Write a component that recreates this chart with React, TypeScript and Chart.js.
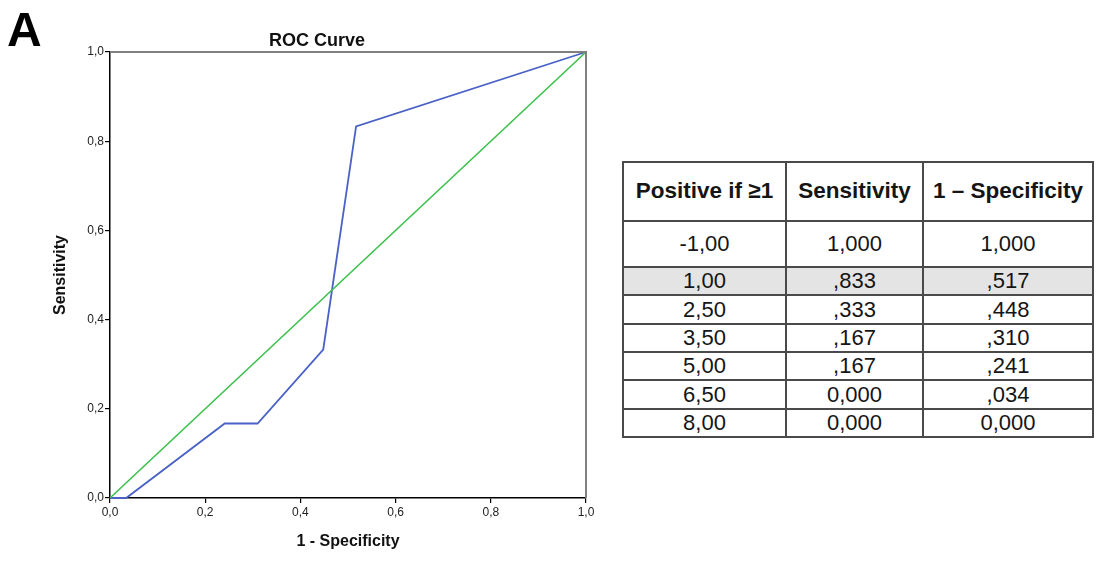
import React, { useEffect, useRef } from "react";
import { Chart, registerables } from "chart.js";

Chart.register(...registerables);

// Coordinates of the ROC curve (cut-off, sensitivity, 1 - specificity)
const thresholds = ["-1,00", "1,00", "2,50", "3,50", "5,00", "6,50", "8,00"];
const sensitivity = [1, 0.833, 0.333, 0.167, 0.167, 0, 0];
const oneMinusSpecificity = [1, 0.517, 0.448, 0.31, 0.241, 0.034, 0];
const highlightedRow = 1;

// Chance (reference) line
const referenceX = [0, 1];
const referenceY = [0, 1];

const tableHeaders = ["Positive if \u22651", "Sensitivity", "1 \u2013 Specificity"];

const FONT = "'Liberation Sans', Arial, Helvetica, sans-serif";

const commaDecimal1 = (v: number) => v.toFixed(1).replace(".", ",");
const spssFraction = (v: number) => {
  if (v === 0) return "0,000";
  if (v === 1) return "1,000";
  return "," + String(Math.round(v * 1000)).padStart(3, "0");
};

const frameAndTitle = {
  id: "frameAndTitle",
  afterDraw(chart: Chart) {
    const { ctx, chartArea } = chart;
    const { left, right, top, bottom } = chartArea;
    ctx.save();
    // top and right frame
    ctx.strokeStyle = "#808080";
    ctx.lineWidth = 2;
    ctx.beginPath();
    ctx.moveTo(left, top);
    ctx.lineTo(right, top);
    ctx.lineTo(right, bottom);
    ctx.stroke();
    // chart title
    ctx.fillStyle = "#111";
    ctx.font = `bold 18px ${FONT}`;
    ctx.textAlign = "center";
    ctx.textBaseline = "alphabetic";
    ctx.fillText("ROC Curve", left + (right - left) * 0.435, 46);
    // panel letter
    ctx.font = `bold 48px ${FONT}`;
    ctx.textAlign = "left";
    ctx.fillStyle = "#000";
    ctx.fillText("A", 7, 46);
    ctx.restore();
  },
};

function RocChart() {
  const canvasRef = useRef<HTMLCanvasElement | null>(null);

  useEffect(() => {
    if (!canvasRef.current) return;
    const curve = oneMinusSpecificity.map((x, i) => ({ x, y: sensitivity[i] }));
    const reference = referenceX.map((x, i) => ({ x, y: referenceY[i] }));

    const chart = new Chart(canvasRef.current, {
      type: "scatter",
      data: {
        datasets: [
          {
            label: "Reference",
            data: reference,
            showLine: true,
            borderColor: "#3cc04c",
            borderWidth: 1.6,
            pointRadius: 0,
            clip: false,
          },
          {
            label: "ROC",
            data: curve,
            showLine: true,
            borderColor: "#4a62c6",
            borderWidth: 1.8,
            pointRadius: 0,
            clip: false,
          },
        ],
      },
      options: {
        animation: false,
        responsive: false,
        devicePixelRatio: 1,
        layout: { padding: { left: 50, top: 52, right: 510, bottom: 12 } },
        plugins: {
          legend: { display: false },
          tooltip: { enabled: false },
          title: { display: false },
        },
        scales: {
          x: {
            type: "linear",
            position: "bottom",
            min: 0,
            max: 1,
            afterFit: (scale: any) => {
              scale.height = 53;
            },
            border: { color: "#000", width: 1.5 },
            grid: { drawOnChartArea: false, drawTicks: true, tickLength: 5, color: "#000", lineWidth: 1.2 },
            ticks: {
              stepSize: 0.2,
              padding: 2,
              color: "#222",
              font: { family: FONT, size: 12 },
              callback: (v: any) => commaDecimal1(Number(v)),
            },
            title: {
              display: true,
              text: "1 - Specificity",
              color: "#111",
              font: { family: FONT, size: 16, weight: "bold" },
              padding: { top: 1, bottom: 0 },
            },
          },
          y: {
            type: "linear",
            min: 0,
            max: 1,
            afterFit: (scale: any) => {
              scale.width = 60;
            },
            border: { color: "#000", width: 1.5 },
            grid: { drawOnChartArea: false, drawTicks: true, tickLength: 5, color: "#000", lineWidth: 1.2 },
            ticks: {
              stepSize: 0.2,
              padding: 1,
              color: "#222",
              font: { family: FONT, size: 12 },
              callback: (v: any) => commaDecimal1(Number(v)),
            },
            title: {
              display: true,
              text: "Sensitivity",
              color: "#111",
              font: { family: FONT, size: 16, weight: "bold" },
              padding: { top: 1, bottom: 0 },
            },
          },
        },
      },
      plugins: [frameAndTitle],
    });
    return () => chart.destroy();
  }, []);

  return <canvas ref={canvasRef} width={1096} height={563} style={{ display: "block" }} />;
}

const rowHeights = [46, 28, 29, 28, 28, 29, 28];
const cellBorder = "2px solid #4a4a4a";

function CoordinatesTable() {
  const cell: React.CSSProperties = {
    border: cellBorder,
    padding: 0,
    textAlign: "center",
    verticalAlign: "middle",
    lineHeight: 1,
    color: "#151515",
  };
  return (
    <table
      style={{
        position: "absolute",
        left: 622,
        top: 161,
        width: 470,
        borderCollapse: "collapse",
        tableLayout: "fixed",
        fontFamily: FONT,
        background: "#fff",
      }}
    >
      <colgroup>
        <col style={{ width: 163 }} />
        <col style={{ width: 137 }} />
        <col style={{ width: 170 }} />
      </colgroup>
      <thead>
        <tr style={{ height: 59 }}>
          {tableHeaders.map((h) => (
            <th key={h} style={{ ...cell, fontSize: 22.5, fontWeight: "bold", whiteSpace: "nowrap" }}>
              {h}
            </th>
          ))}
        </tr>
      </thead>
      <tbody>
        {thresholds.map((t, i) => (
          <tr key={t} style={{ height: rowHeights[i], background: i === highlightedRow ? "#e4e4e4" : "#fff" }}>
            <td style={{ ...cell, fontSize: 22 }}>{t}</td>
            <td style={{ ...cell, fontSize: 22 }}>{spssFraction(sensitivity[i])}</td>
            <td style={{ ...cell, fontSize: 22 }}>{spssFraction(oneMinusSpecificity[i])}</td>
          </tr>
        ))}
      </tbody>
    </table>
  );
}

export default function App() {
  return (
    <div style={{ position: "fixed", left: 0, top: 0, width: 1096, height: 563, background: "#fff", overflow: "hidden" }}>
      <RocChart />
      <CoordinatesTable />
    </div>
  );
}
